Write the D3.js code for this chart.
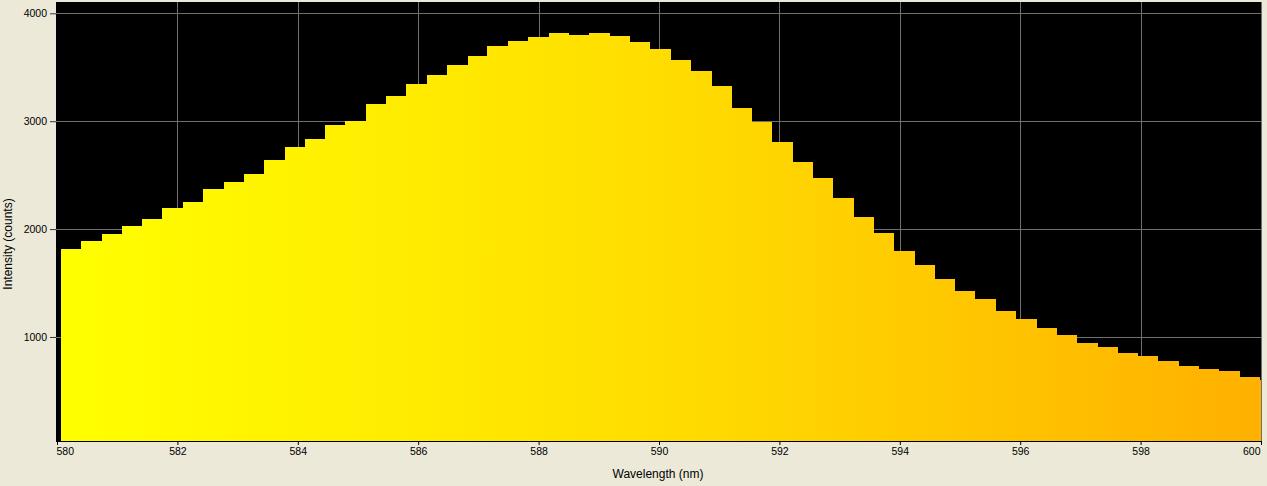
<!DOCTYPE html>
<html>
<head>
<meta charset="utf-8">
<script src="https://cdn.jsdelivr.net/npm/d3@7"></script>
<style>
  html, body { margin: 0; padding: 0; background: #ECE9D8; }
  svg { display: block; }
  text { font-family: "Liberation Sans", Arial, sans-serif; font-size: 10.5px; fill: #000; }
</style>
</head>
<body>
<script>
// Bin start wavelengths (nm)
const wavelengths = [580.07, 580.40, 580.74, 581.08, 581.42, 581.75, 582.09, 582.43, 582.77, 583.10,
  583.44, 583.78, 584.12, 584.45, 584.79, 585.13, 585.47, 585.80, 586.14, 586.48,
  586.82, 587.15, 587.49, 587.83, 588.17, 588.50, 588.84, 589.18, 589.52, 589.85,
  590.19, 590.53, 590.87, 591.20, 591.54, 591.88, 592.22, 592.55, 592.89, 593.23,
  593.57, 593.90, 594.24, 594.58, 594.92, 595.25, 595.59, 595.93, 596.27, 596.60,
  596.94, 597.28, 597.62, 597.95, 598.29, 598.63, 598.97, 599.30, 599.64, 599.98];
const binEnd = 600.32;
// Intensity (counts)
const intensities = [1816, 1890, 1955, 2029, 2094, 2196, 2251, 2372, 2437, 2511,
  2640, 2761, 2835, 2965, 3002, 3159, 3234, 3345, 3428, 3521,
  3604, 3697, 3743, 3780, 3817, 3799, 3817, 3790, 3734, 3669,
  3567, 3465, 3326, 3122, 2993, 2808, 2622, 2474, 2289, 2113,
  1964, 1798, 1668, 1538, 1427, 1353, 1241, 1167, 1084, 1019,
  944, 907, 852, 824, 778, 732, 704, 685, 629, 602];
const xTicks = [580, 582, 584, 586, 588, 590, 592, 594, 596, 598, 600];
const yTicks = [1000, 2000, 3000, 4000];
const xDomain = [580, 600];
const yDomain = [33, 4105];
const xLabel = "Wavelength (nm)";
const yLabel = "Intensity (counts)";

const W = 1267, H = 486;
const plot = { left: 56, right: 1261, top: 2, bottom: 441 };

const svg = d3.select("body").append("svg").attr("width", W).attr("height", H);

const x = d3.scaleLinear().domain(xDomain).range([57, 1261]);
const y = d3.scaleLinear().domain(yDomain).range([441.3, 2]);

const defs = svg.append("defs");
defs.append("clipPath").attr("id", "clip").append("rect")
  .attr("x", plot.left).attr("y", plot.top)
  .attr("width", plot.right - plot.left).attr("height", plot.bottom - plot.top);
const grad = defs.append("linearGradient").attr("id", "grad")
  .attr("gradientUnits", "userSpaceOnUse")
  .attr("x1", x(580)).attr("x2", x(600)).attr("y1", 0).attr("y2", 0);
[[0, "#FFFF00"], [0.2, "#FFF200"], [0.4, "#FFE400"], [0.55, "#FFD900"], [0.75, "#FFC700"], [1, "#FFB000"]]
  .forEach(([o, c]) => grad.append("stop").attr("offset", o).attr("stop-color", c));

// plot background
svg.append("rect").attr("x", plot.left).attr("y", plot.top)
  .attr("width", plot.right - plot.left).attr("height", plot.bottom - plot.top)
  .attr("fill", "#000");

// gridlines
const grid = svg.append("g").attr("stroke", "#707070").attr("stroke-width", 1);
grid.selectAll("line.v").data(xTicks.filter(d => d > 580)).join("line")
  .attr("x1", d => Math.round(x(d)) + 0.5).attr("x2", d => Math.round(x(d)) + 0.5)
  .attr("y1", plot.top).attr("y2", plot.bottom);
grid.selectAll("line.h").data(yTicks).join("line")
  .attr("x1", plot.left).attr("x2", plot.right)
  .attr("y1", d => Math.round(y(d)) + 0.5).attr("y2", d => Math.round(y(d)) + 0.5);

// bars
const barsG = svg.append("g").attr("clip-path", "url(#clip)");
barsG.selectAll("rect").data(intensities).join("rect")
  .attr("x", (d, i) => x(wavelengths[i]))
  .attr("width", (d, i) => x(i + 1 < wavelengths.length ? wavelengths[i + 1] : binEnd) - x(wavelengths[i]) + 0.3)
  .attr("y", d => y(d))
  .attr("height", d => y(yDomain[0]) - y(d))
  .attr("fill", "url(#grad)")
  .attr("shape-rendering", "crispEdges");

// X axis
const xAxis = d3.axisBottom(x).tickValues(xTicks).tickSize(4).tickPadding(3).tickFormat(d3.format("d"));
const gx = svg.append("g").attr("transform", `translate(0,${plot.bottom})`).call(xAxis);
gx.select(".domain").attr("d", `M${plot.left},0.5H${plot.right + 1}`).attr("stroke", "#000");
gx.selectAll(".tick line").attr("stroke", "#000");
gx.selectAll("text").attr("font-family", "Liberation Sans, Arial, sans-serif").attr("font-size", "11px");
// keep edge labels inside the window, as in the reference
gx.selectAll(".tick").filter(d => d === xDomain[0]).select("text").attr("text-anchor", "start").attr("x", -1);
gx.selectAll(".tick").filter(d => d === xDomain[1]).select("text").attr("text-anchor", "end").attr("x", -1);

// Y axis
const yAxis = d3.axisLeft(y).tickValues(yTicks).tickSize(6).tickPadding(3).tickFormat(d3.format("d"));
const gy = svg.append("g").attr("transform", `translate(${plot.left},0)`).call(yAxis);
gy.select(".domain").remove();
gy.selectAll(".tick line").attr("stroke", "#333");
gy.selectAll("text").attr("font-family", "Liberation Sans, Arial, sans-serif").attr("font-size", "11px");

// right border
svg.append("line").attr("x1", plot.right + 0.5).attr("x2", plot.right + 0.5)
  .attr("y1", plot.top).attr("y2", plot.bottom).attr("stroke", "#707070");

// labels
svg.append("text").attr("x", x(590) - 1).attr("y", 478).attr("text-anchor", "middle")
  .style("font-size", "12px").text(xLabel);
svg.append("text").attr("transform", `translate(12,244) rotate(-90)`).attr("text-anchor", "middle")
  .style("font-size", "12px").text(yLabel);
</script>
</body>
</html>
